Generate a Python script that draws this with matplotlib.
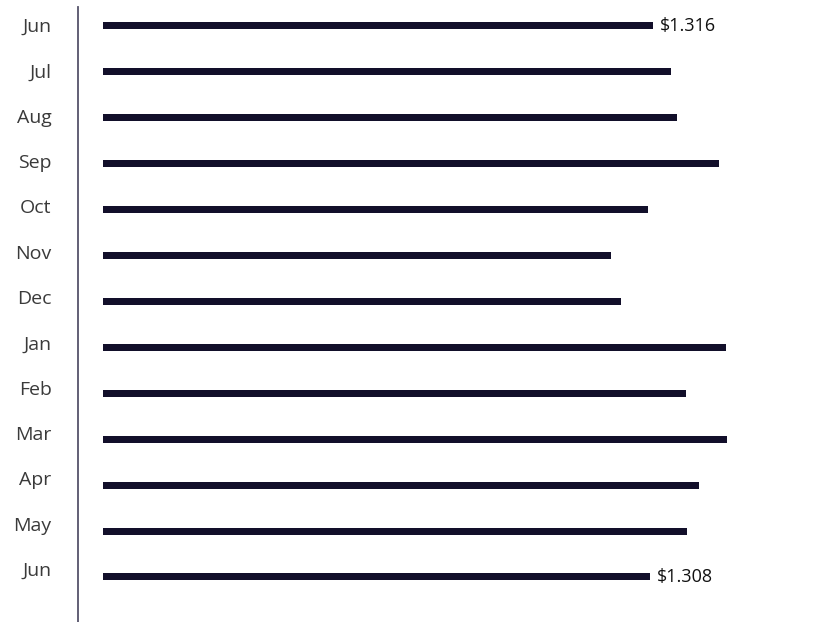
import numpy as np
import matplotlib.pyplot as plt

plt.rcParams['font.family'] = ['Open Sans', 'DejaVu Sans']

# Monthly values
months = ['Jun', 'Jul', 'Aug', 'Sep', 'Oct', 'Nov', 'Dec',
          'Jan', 'Feb', 'Mar', 'Apr', 'May', 'Jun']
values = [1.316, 1.358, 1.373, 1.473, 1.304, 1.214, 1.239,
          1.491, 1.394, 1.492, 1.426, 1.397, 1.308]
# only first and last bars carry a value label
labeled = [0, 12]

bar_color = '#120f2a'

fig = plt.figure(figsize=(8.3, 6.22), dpi=100)
ax = fig.add_axes([78 / 830, 0, 722 / 830, 615 / 622])

y = np.arange(len(values))
ax.barh(y, values, height=0.152, color=bar_color, left=0)

for i in labeled:
    ax.text(values[i] + 0.016, y[i], f'${values[i]:.3f}',
            va='center', ha='left', fontsize=13, color='#111111')

# month labels sit slightly tighter than the bars
ax.set_yticks(y * 0.986 - 0.01)
ax.set_yticklabels(months, fontsize=14, color='#3a3a3a')
ax.tick_params(axis='y', length=0, pad=19)
ax.set_xticks([])

ax.set_xlim(-0.059, 1.667)
ax.set_ylim(12.98, -0.407)

for s in ['top', 'right', 'bottom']:
    ax.spines[s].set_visible(False)
ax.spines['left'].set_color('#55536a')
ax.spines['left'].set_linewidth(1.3)

fig.savefig('out.png', dpi=100)
